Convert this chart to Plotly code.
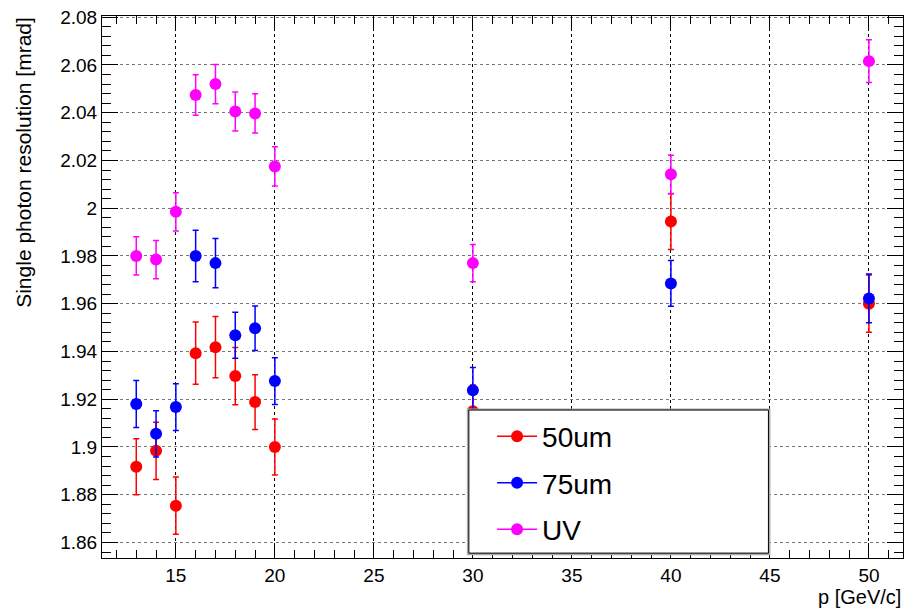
import plotly.graph_objects as go

p = [13, 14, 15, 16, 17, 18, 19, 20, 30, 40, 50]
res_50um = [1.8917, 1.8984, 1.8754, 1.9393, 1.9418, 1.9297, 1.9188, 1.9000, 1.9150, 1.9944, 1.9600]
err_50um = [0.0117, 0.0120, 0.0120, 0.0130, 0.0128, 0.0120, 0.0115, 0.0117, 0.0110, 0.0117, 0.0120]
res_75um = [1.9180, 1.9055, 1.9167, 1.9800, 1.9770, 1.9468, 1.9497, 1.9276, 1.9238, 1.9685, 1.9622]
err_75um = [0.0098, 0.0097, 0.0098, 0.0108, 0.0103, 0.0096, 0.0093, 0.0098, 0.0095, 0.0096, 0.0102]
res_uv = [1.9800, 1.9785, 1.9985, 2.0474, 2.0520, 2.0405, 2.0397, 2.0175, 1.9770, 2.0142, 2.0616]
err_uv = [0.0080, 0.0080, 0.0080, 0.0085, 0.0082, 0.0082, 0.0082, 0.0082, 0.0078, 0.0080, 0.0090]

series_names = ["50um", "75um", "UV"]
series_colors = ["#ff0000", "#0000ff", "#ff00ff"]

y_tickvals = [1.86, 1.88, 1.90, 1.92, 1.94, 1.96, 1.98, 2.00, 2.02, 2.04, 2.06, 2.08]
y_ticktext = ["1.86", "1.88", "1.9", "1.92", "1.94", "1.96", "1.98", "2", "2.02", "2.04", "2.06", "2.08"]
x_tickvals = [15, 20, 25, 30, 35, 40, 45, 50]

FONT = "Liberation Sans, Arial, Helvetica, sans-serif"

fig = go.Figure()
for name, ys, es, col in zip(series_names, [res_50um, res_75um, res_uv],
                             [err_50um, err_75um, err_uv], series_colors):
    fig.add_trace(go.Scatter(
        x=p, y=ys, mode="markers", showlegend=False,
        marker=dict(color=col, size=12, line=dict(width=0)),
        error_y=dict(type="data", array=es, visible=True, color=col,
                     thickness=1.5, width=3),
    ))

for i, (name, col) in enumerate(zip(series_names, series_colors)):
    fig.add_trace(go.Scatter(
        x=[None], y=[None], mode="lines+markers", name=name,
        legendgroup=name,
        line=dict(color=col, width=1.5),
        marker=dict(color=col, size=12),
    ))

# legend box
fig.add_shape(type="rect", xref="paper", yref="paper",
              x0=0.4555, x1=0.8345, y0=0.005, y1=0.276,
              fillcolor="#aaaaaa", line=dict(width=0), layer="above")
fig.add_shape(type="rect", xref="paper", yref="paper",
              x0=0.458, x1=0.832, y0=0.009, y1=0.273,
              fillcolor="white", line=dict(color="black", width=1), layer="above")

fig.update_layout(
    width=905, height=609,
    margin=dict(l=102, r=2, t=16, b=51),
    paper_bgcolor="white", plot_bgcolor="white",
    font=dict(family=FONT, color="black", size=19),
    legend=dict(x=0.487, y=0.270, xanchor="left", yanchor="top",
                bgcolor="rgba(0,0,0,0)", borderwidth=0,
                font=dict(size=28, family=FONT), tracegroupgap=7,
                itemwidth=40),
    xaxis=dict(range=[11.27, 51.72], tickvals=x_tickvals,
               showgrid=True, gridcolor="black", griddash="dot", gridwidth=1,
               showline=True, linecolor="black", linewidth=1, mirror="ticks",
               ticks="inside", ticklen=15, tickcolor="black",
               minor=dict(dtick=1, ticks="inside", ticklen=8, tickcolor="black", showgrid=False),
               zeroline=False, tickfont=dict(size=19)),
    yaxis=dict(range=[1.8535, 2.0805], tickvals=y_tickvals, ticktext=y_ticktext,
               showgrid=True, gridcolor="#777777", griddash="dot", gridwidth=1,
               showline=True, linecolor="black", linewidth=1, mirror="ticks",
               ticks="inside", ticklen=16, tickcolor="black",
               minor=dict(tickvals=[round(1.856 + 0.004 * k, 3) for k in range(57)],
                          ticks="inside", ticklen=9, tickcolor="black", showgrid=False),
               zeroline=False, tickfont=dict(size=19)),
    annotations=[
        dict(text="Single photon resolution [mrad]", xref="paper", yref="paper",
             x=-0.115, y=1.002, xanchor="left", yanchor="top", textangle=-90,
             showarrow=False, font=dict(size=21, family=FONT)),
        dict(text="p [GeV/c]", xref="paper", yref="paper",
             x=1.0, y=-0.048, xanchor="right", yanchor="top",
             showarrow=False, font=dict(size=20, family=FONT)),
    ],
)

fig.write_html("out.html")
